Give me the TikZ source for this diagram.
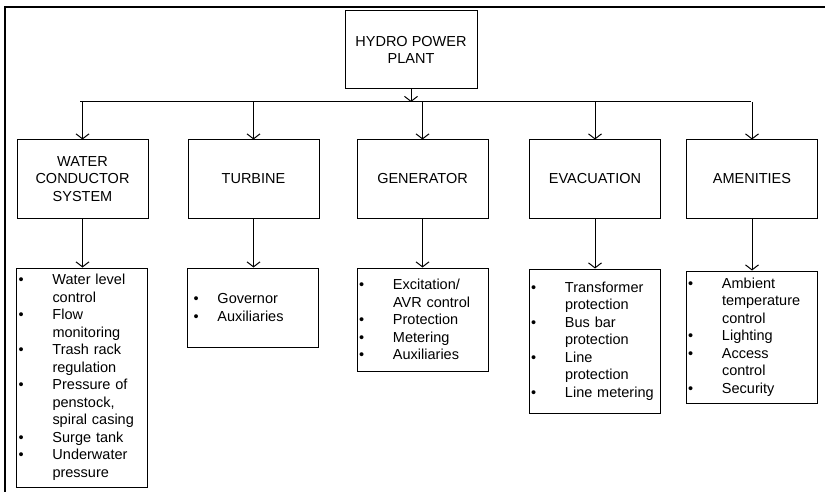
\documentclass[tikz,border=0pt]{standalone}
\usepackage{fontspec}
\setmainfont{Liberation Sans}
\usetikzlibrary{arrows.meta}

% bullet item (optional width of the bullet column) and continuation line
\newcommand\bitem[1][34pt]{\makebox[#1][l]{\textbullet}}
\newcommand\citem[1][34pt]{\hspace*{#1}}

\tikzset{
  txt/.style={font=\fontsize{14.5}{17.5}\selectfont},
  headbox/.style={draw, line width=1pt, txt, align=center,
    minimum width=131pt, minimum height=78pt, inner sep=0pt},
  listbox/.style={draw, line width=1pt, txt, align=left,
    text width=127pt, inner xsep=2pt, inner ysep=0pt},
  arr/.style={line width=1pt, -{Straight Barb[length=5pt,width=13pt,line width=1pt]}},
  wire/.style={line width=1pt},
  frame/.style={line width=1.8pt},
}

\begin{document}
\begin{tikzpicture}[x=1pt, y=-1pt]
\useasboundingbox (0,0) rectangle (825,492);

% page frame
\coordinate (fb) at (5,492);
\coordinate (fc) at (5,7);
\coordinate (fr) at (825,7);
\draw[frame] (fb) -- (fc) -- (fr);

% root
\node[headbox, minimum width=132pt] (hpp) at (411,50) {HYDRO POWER\\PLANT};

% subsystems
\node[headbox] (wcs) at (82.5,179) {WATER\\CONDUCTOR\\SYSTEM};
\node[headbox] (tur) at (253.5,179) {TURBINE};
\node[headbox] (gen) at (422.5,179) {GENERATOR};
\node[headbox] (eva) at (595,179) {EVACUATION};
\node[headbox] (ame) at (752,179) {AMENITIES};

% function lists
\node[listbox, minimum height=219pt] (lwcs) at (82,377.5) {%
  \bitem Water level\\ \citem control\\
  \bitem Flow\\ \citem monitoring\\
  \bitem Trash rack\\ \citem regulation\\
  \bitem Pressure of\\ \citem penstock,\\ \citem spiral casing\\
  \bitem Surge tank\\
  \bitem Underwater\\ \citem pressure};
\node[listbox, minimum height=79pt] (ltur) at (253,307.5) {%
  \hspace*{4pt}\bitem[24pt]Governor\\
  \hspace*{4pt}\bitem[24pt]Auxiliaries};
\node[listbox, minimum height=103pt] (lgen) at (422.5,319.5) {%
  \bitem Excitation/\\ \citem AVR control\\
  \bitem Protection\\
  \bitem Metering\\
  \bitem Auxiliaries};
\node[listbox, minimum height=144pt] (leva) at (594.5,341) {%
  \bitem Transformer\\ \citem protection\\
  \bitem Bus bar\\ \citem protection\\
  \bitem Line\\ \citem protection\\
  \bitem Line metering};
\node[listbox, minimum height=132pt] (lame) at (751.5,337) {%
  \bitem Ambient\\ \citem temperature\\ \citem control\\
  \bitem Lighting\\
  \bitem Access\\ \citem control\\
  \bitem Security};

% distribution bus
\coordinate (busL) at (80,102);
\coordinate (busR) at (751,102);
\draw[wire] (busL) -- (busR);
\draw[arr] (hpp.south) -- (hpp.south |- busL);

\foreach \c in {wcs,tur,gen,eva,ame}{
  \draw[arr] (\c.north |- busL) -- (\c.north);
}
\draw[arr] (wcs.south) -- (wcs.south |- lwcs.north);
\draw[arr] (tur.south) -- (tur.south |- ltur.north);
\draw[arr] (gen.south) -- (gen.south |- lgen.north);
\draw[arr] (eva.south) -- (eva.south |- leva.north);
\draw[arr] (ame.south) -- (ame.south |- lame.north);
\end{tikzpicture}
\end{document}
